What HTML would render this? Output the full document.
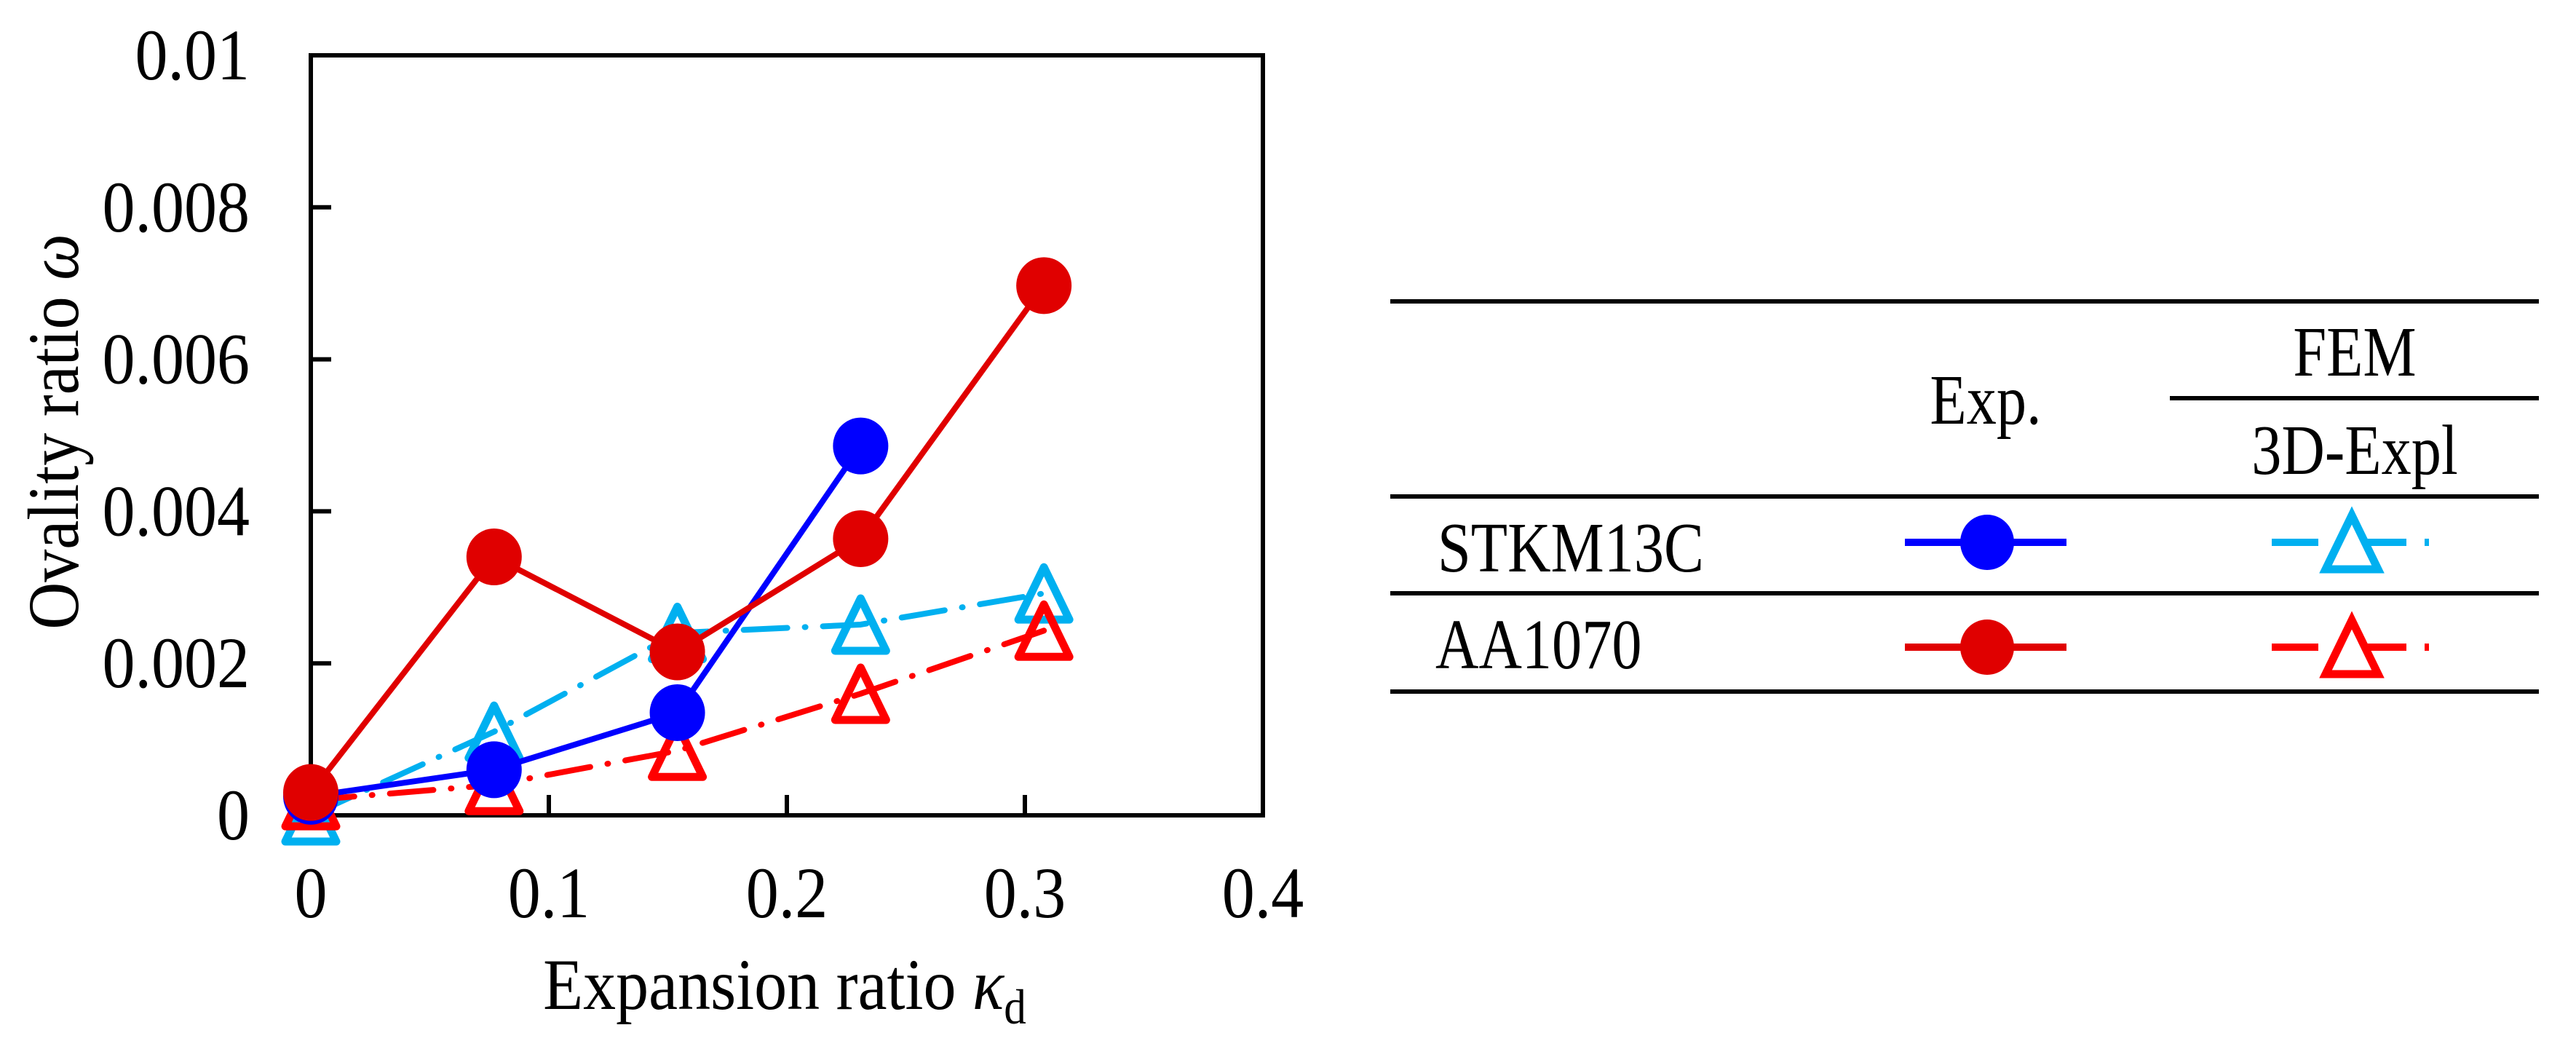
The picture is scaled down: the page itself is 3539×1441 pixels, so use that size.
<!DOCTYPE html>
<html><head><meta charset="utf-8">
<style>
html,body{margin:0;padding:0;background:#fff;}
svg{display:block;}
text{font-family:"Liberation Serif","Times New Roman",serif;fill:#000;}
</style></head>
<body>
<svg id="chart" width="3539" height="1441" viewBox="0 0 3539 1441" xmlns="http://www.w3.org/2000/svg">
  <g id="plot"></g>
  <g id="legend"></g>
</svg>
<script>
const xValues = [0, 0.077, 0.154, 0.231, 0.308];
const stkmExp = [0.00025, 0.0006, 0.00135, 0.00486];
const aaExp = [0.0003, 0.0034, 0.00215, 0.00364, 0.00697];
const stkmFem = [0.0, 0.0011, 0.0024, 0.00251, 0.00292];
const aaFem = [0.0002, 0.0004, 0.00085, 0.0016, 0.00243];
const xTicks = [0, 0.1, 0.2, 0.3, 0.4];
const xTickLabels = ["0", "0.1", "0.2", "0.3", "0.4"];
const yTicks = [0, 0.002, 0.004, 0.006, 0.008, 0.01];
const yTickLabels = ["0", "0.002", "0.004", "0.006", "0.008", "0.01"];

const NS = "http://www.w3.org/2000/svg";
const L = 427, R = 1735, T = 76, B = 1120;
const xMax = 0.4, yMax = 0.01;
function sx(v){ return L + (v / xMax) * (R - L); }
function sy(v){ return B - (v / yMax) * (B - T); }
function mk(tag, attrs, parent){
  const e = document.createElementNS(NS, tag);
  for (const k in attrs) e.setAttribute(k, attrs[k]);
  parent.appendChild(e);
  return e;
}
function txt(parent, x, y, size, sxf, anchor, rot){
  const tr = 'translate(' + x + ',' + y + ')' + (rot ? ' rotate(' + rot + ')' : '') + ' scale(' + sxf + ',1)';
  return mk('text', {x:0, y:0, 'font-size':size, 'text-anchor':anchor, transform:tr}, parent);
}
const plot = document.getElementById('plot');
const legend = document.getElementById('legend');
const DASHDOT = "60 24 1 24";

const box = mk('rect', {x:L, y:T, width:R-L, height:B-T, fill:'none', stroke:'#000', 'stroke-width':6}, plot);



xTicks.forEach((v, i) => {
  if (i > 0 && i < xTicks.length - 1) {
    const t = mk('line', {x1:sx(v), x2:sx(v), y1:B, y2:B-28, stroke:'#000', 'stroke-width':6}, plot);
    
    
  }
  const lb = txt(plot, sx(v), 1260, 100, 0.9, 'middle');
  lb.textContent = xTickLabels[i];
  
  
});
yTicks.forEach((v, i) => {
  if (i > 0 && i < yTicks.length - 1) {
    const t = mk('line', {x1:L, x2:L+28, y1:sy(v), y2:sy(v), stroke:'#000', 'stroke-width':6}, plot);
    
    
  }
  const lb = txt(plot, 343, sy(v)+33, 100, 0.9, 'end');
  lb.textContent = yTickLabels[i];
  
  
});

const xt = txt(plot, 1078, 1386, 100, 0.9, 'middle');
xt.innerHTML = 'Expansion ratio <tspan font-style="italic">κ</tspan><tspan font-size="68" dy="20">d</tspan>';


const yt = txt(plot, 107, 593, 100, 0.9, 'middle', -90);
yt.innerHTML = 'Ovality ratio <tspan font-style="italic">ω</tspan>';



function series(vals, color, dash, marker, name){
  const g = mk('g', {}, plot);
  
  
  const pts = vals.map((v, i) => sx(xValues[i]) + ',' + sy(v)).join(' ');
  const attrs = {points:pts, fill:'none', stroke:color, 'stroke-width':8, 'stroke-linecap':'round', 'stroke-linejoin':'round'};
  if (dash) attrs['stroke-dasharray'] = dash;
  const pl = mk('polyline', attrs, g);
  
  
  vals.forEach((v, i) => {
    const cx = sx(xValues[i]), cy = sy(v);
    let m;
    if (marker === 'circle') {
      m = mk('ellipse', {cx:cx, cy:cy, rx:38, ry:39, fill:color}, g);
    } else {
      m = mk('polygon', {points:(cx)+','+(cy-36)+' '+(cx-35)+','+(cy+36)+' '+(cx+35)+','+(cy+36), fill:'none', stroke:color, 'stroke-width':11, 'stroke-linejoin':'round'}, g);
    }
    
    
  });
}
series(stkmFem, '#00b0f0', DASHDOT, 'tri', 'stkm13c-fem-series');
series(aaFem, '#ff0000', DASHDOT, 'tri', 'aa1070-fem-series');
series(stkmExp, '#0000ff', null, 'circle', 'stkm13c-exp-series');
series(aaExp, '#e00000', null, 'circle', 'aa1070-exp-series');

function hline(x1, x2, y, name){
  const l = mk('line', {x1:x1, x2:x2, y1:y, y2:y, stroke:'#000', 'stroke-width':6}, legend);
  
  
}
hline(1910, 3488, 414, 'legend-top-rule');
hline(2981, 3488, 547, 'legend-fem-rule');
hline(1910, 3488, 682, 'legend-header-rule');
hline(1910, 3488, 815, 'legend-row-rule');
hline(1910, 3488, 950, 'legend-bottom-rule');
function ltext(x, y, s, anchor, name){
  const t = txt(legend, x, y, 98, 0.84, anchor);
  t.textContent = s;
  
  
}
ltext(3235, 516, 'FEM', 'middle', 'legend-fem-header');
ltext(2728, 582, 'Exp.', 'middle', 'legend-exp-header');
ltext(3235, 651, '3D-Expl', 'middle', 'legend-3d-expl-header');
ltext(1975, 785, 'STKM13C', 'start', 'legend-stkm13c-label');
ltext(1972, 918, 'AA1070', 'start', 'legend-aa1070-label');
function lentry(y, color, marker, name){
  const g = mk('g', {}, legend);
  
  
  if (marker === 'circle') {
    mk('line', {x1:2617, x2:2839, y1:y, y2:y, stroke:color, 'stroke-width':10}, g);
    mk('ellipse', {cx:2730, cy:y, rx:37, ry:38, fill:color}, g);
  } else {
    mk('line', {x1:3121, x2:3185, y1:y, y2:y, stroke:color, 'stroke-width':10}, g);
    mk('line', {x1:3250, x2:3306, y1:y, y2:y, stroke:color, 'stroke-width':10}, g);
    mk('line', {x1:3331, x2:3337, y1:y, y2:y, stroke:color, 'stroke-width':10}, g);
    mk('polygon', {points:'3231,'+(y-37)+' 3195,'+(y+37)+' 3267,'+(y+37), fill:'none', stroke:color, 'stroke-width':11}, g);
  }
}
lentry(745, '#0000ff', 'circle', 'legend-stkm13c-exp');
lentry(745, '#00b0f0', 'tri', 'legend-stkm13c-fem');
lentry(889, '#e00000', 'circle', 'legend-aa1070-exp');
lentry(889, '#ff0000', 'tri', 'legend-aa1070-fem');
</script>
</body></html>
